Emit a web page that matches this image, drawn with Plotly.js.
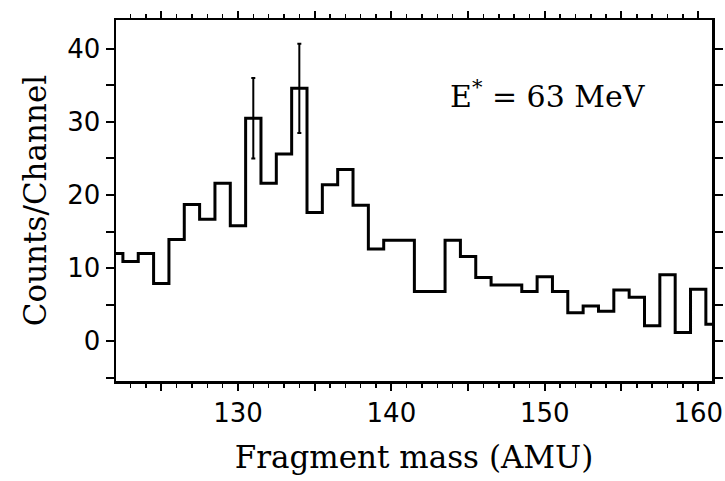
<!DOCTYPE html>
<html>
<head>
<meta charset="utf-8">
<script src="https://cdn.plot.ly/plotly-3.0.1.min.js"></script>
<style>html,body{margin:0;padding:0;background:#fff;}#chart{width:725px;height:481px;}</style>
</head>
<body>
<div id="chart"></div>
<script>
// Fragment mass bins (AMU, bin centres)
const masses = [122,123,124,125,126,127,128,129,130,131,132,133,134,135,136,137,138,139,140,141,
                142,143,144,145,146,147,148,149,150,151,152,153,154,155,156,157,158,159,160,161];
// Counts per channel
const counts = [12.0,10.9,12.0,7.9,13.9,18.7,16.7,21.6,15.8,30.5,21.6,25.6,34.6,17.6,21.4,23.5,18.6,12.6,13.8,13.8,
                6.8,6.8,13.8,11.6,8.7,7.7,7.7,6.8,8.8,6.8,3.9,4.8,4.1,7.0,6.0,2.1,9.1,1.2,7.1,2.3];
// Error bars shown on two channels
const errMass = [131, 134];
const errCounts = [30.5, 34.6];
const errSize = [5.5, 6.1];
// Tick labels
const xTickVals = [125,130,135,140,145,150,155,160];
const xTickText = ['','130','','140','','150','','160'];
const yTickVals = [0,10,20,30,40];
const yTickText = ['0','10','20','30','40'];

const traces = [
  {x: masses, y: counts, type: 'scatter', mode: 'lines',
   line: {shape: 'hvh', color: '#000', width: 3}, hoverinfo: 'skip'},
  {x: errMass, y: errCounts, type: 'scatter', mode: 'markers',
   marker: {size: 1, color: '#000'},
   error_y: {type: 'data', array: errSize, visible: true, color: '#000', thickness: 2, width: 2}}
];

const tickFont = {family: 'DejaVu Sans, sans-serif', size: 26, color: '#000'};
const titleFont = {family: 'DejaVu Serif, serif', size: 31, color: '#000'};
const axisCommon = {
  showgrid: false, zeroline: false, showline: true, linecolor: '#000', linewidth: 2.5,
  mirror: 'allticks', ticks: 'outside', tickcolor: '#000', tickwidth: 2, tickfont: tickFont
};
const xRange = [122.05, 160.9];
const yRange = [-5.45, 43.95];

const layout = {
  width: 725, height: 481,
  margin: {l: 116, r: 13, t: 20, b: 100},
  paper_bgcolor: '#fff', plot_bgcolor: '#fff',
  showlegend: false,
  xaxis: Object.assign({}, axisCommon, {
    range: xRange, tickmode: 'array', tickvals: xTickVals, ticktext: xTickText,
    ticklen: 7,
    minor: {tickmode: 'linear', tick0: 0, dtick: 1, ticklen: 4, tickwidth: 1.5, tickcolor: '#000', ticks: 'outside'},
    title: {text: 'Fragment mass (AMU)', standoff: 20, font: titleFont}
  }),
  yaxis: Object.assign({}, axisCommon, {
    range: yRange, tickmode: 'array', tickvals: yTickVals, ticktext: yTickText,
    ticklen: 8,
    minor: {tickmode: 'linear', tick0: 0, dtick: 5, ticklen: 8, tickwidth: 2, tickcolor: '#000', ticks: 'outside'},
    title: {text: 'Counts/Channel', standoff: 12, font: titleFont}
  }),
  annotations: [{
    x: 150.2, y: 33.8, xref: 'x', yref: 'y', xanchor: 'center', yanchor: 'middle',
    text: 'E<sup>*</sup> = 63 MeV', showarrow: false,
    font: {family: 'DejaVu Serif, serif', size: 30, color: '#000'}
  }]
};

Plotly.newPlot('chart', traces, layout, {staticPlot: true, displayModeBar: false});
</script>
</body>
</html>
